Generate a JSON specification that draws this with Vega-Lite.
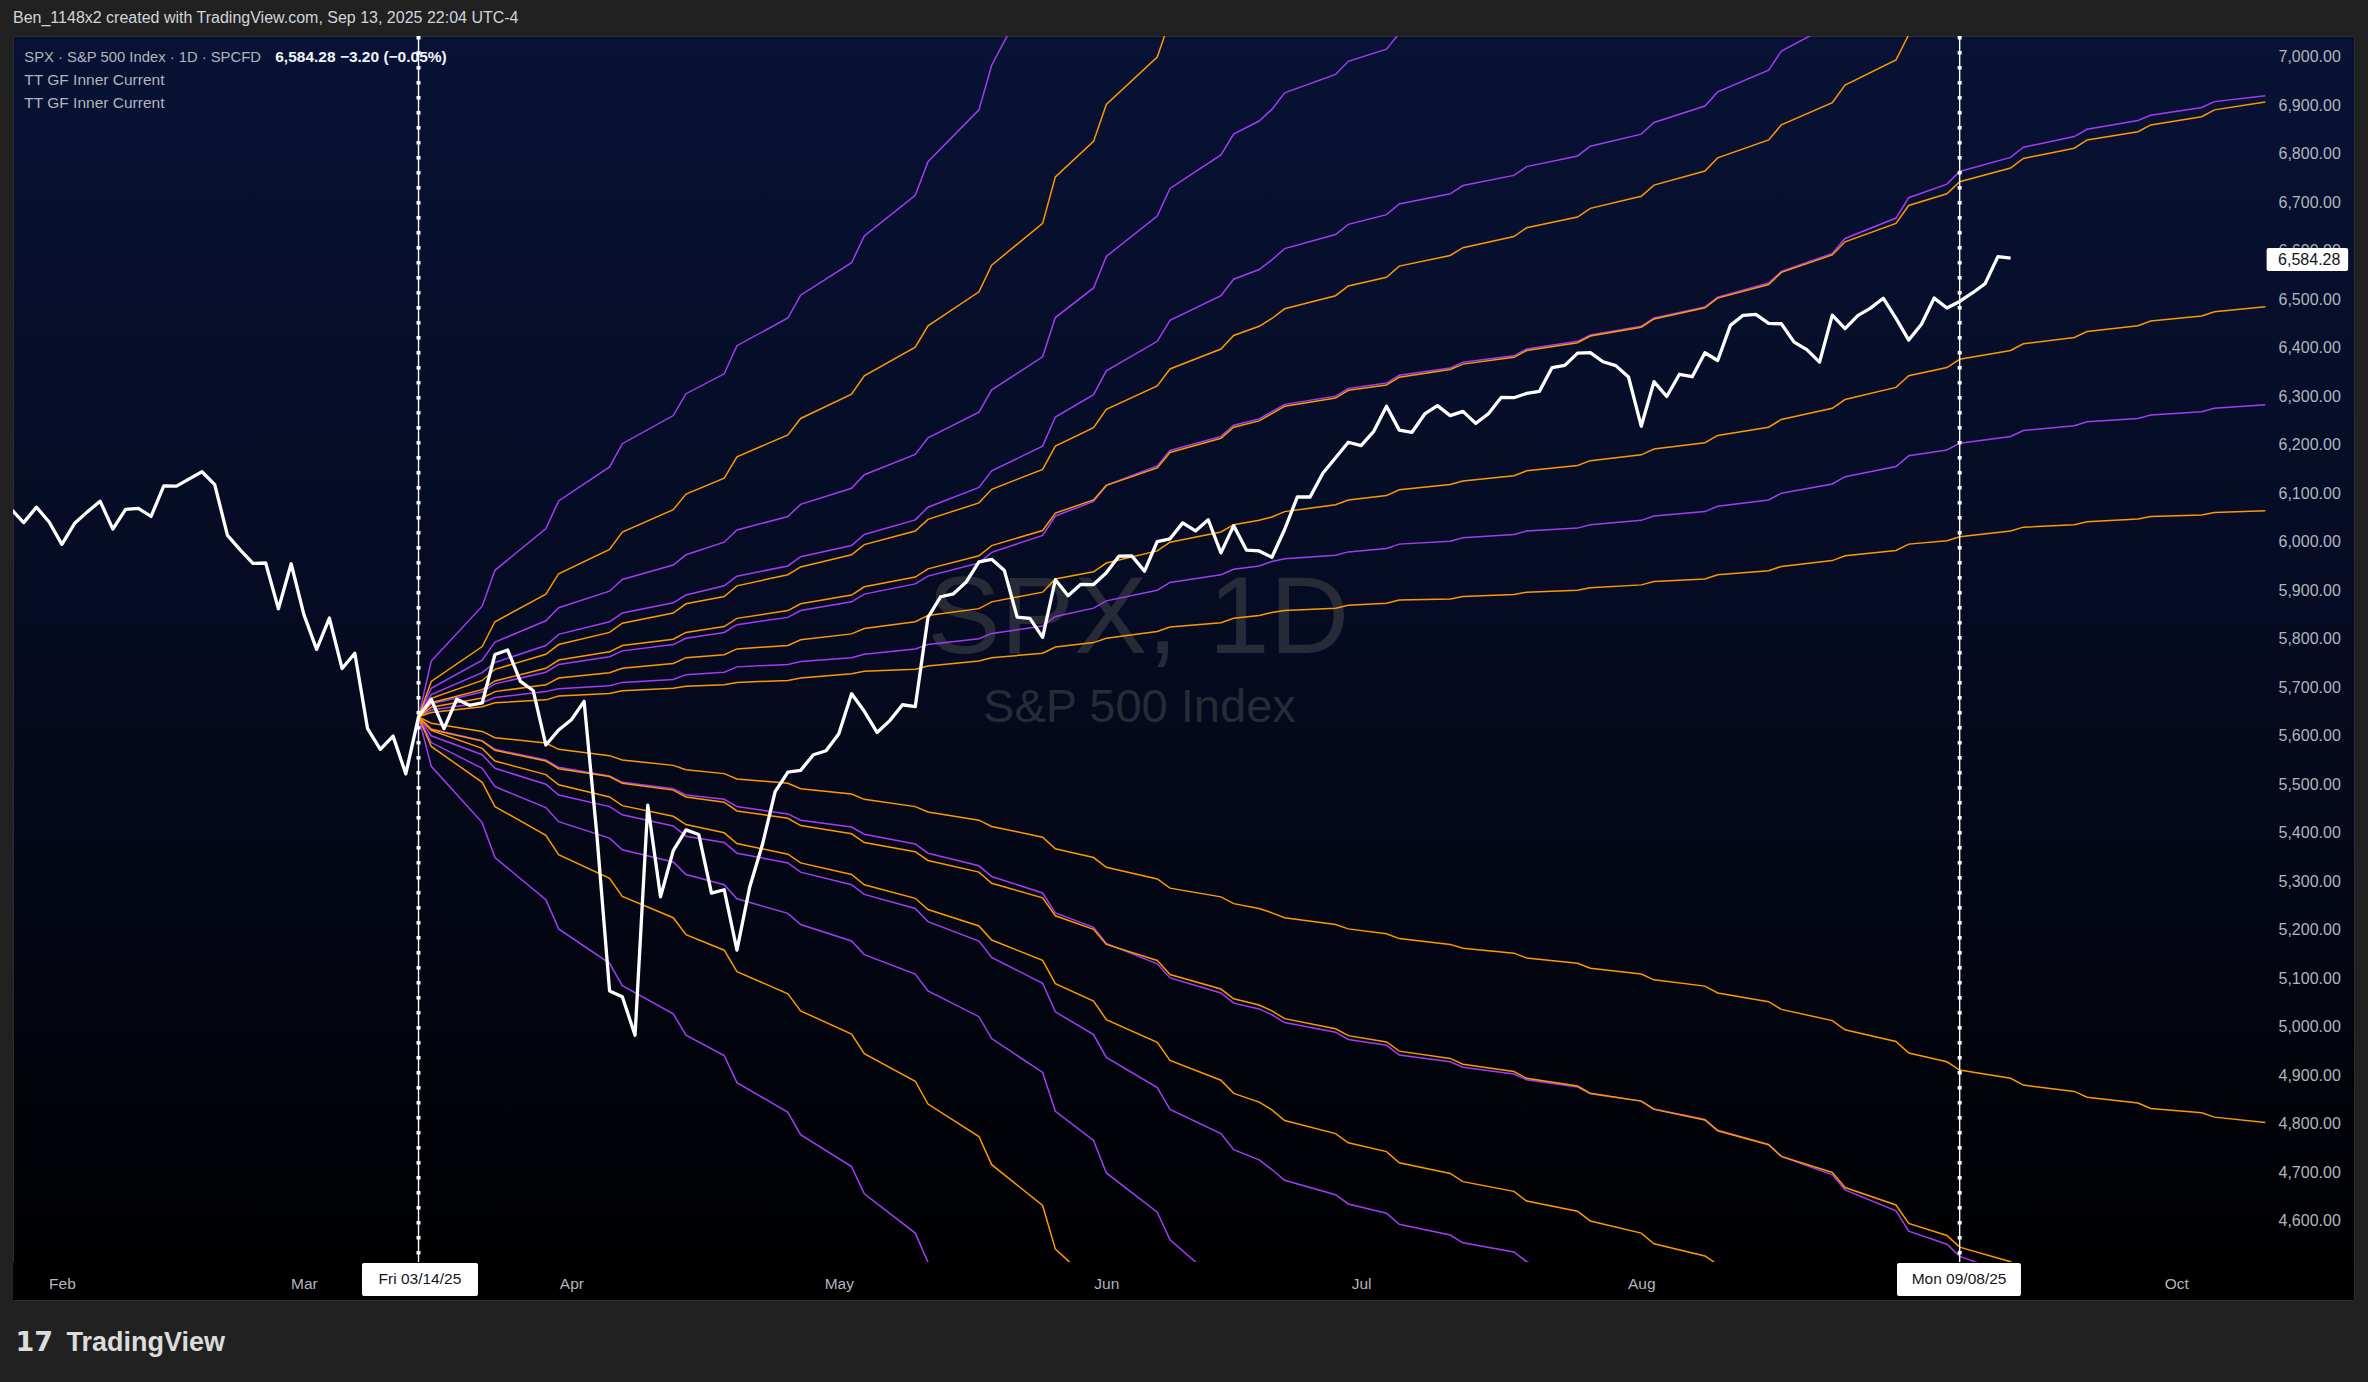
{
"$schema":"https://vega.github.io/schema/vega-lite/v6.json",
"width":2341,"height":1264,
"autosize":{"type":"none"},
"padding":{"left":13,"top":36,"right":14,"bottom":82},
"background":"#212121",
"title":{"text":"Ben_1148x2 created with TradingView.com, Sep 13, 2025 22:04 UTC-4","anchor":"start","frame":"group","offset":8,"color":"#d1d4dc","fontSize":16,"font":"Liberation Sans","fontWeight":"normal"},
"config":{
 "view":{"fill":{"gradient":"linear","x1":0,"y1":0,"x2":0,"y2":1,"stops":[{"offset":0,"color":"#081234"},{"offset":0.45,"color":"#050b22"},{"offset":0.8,"color":"#02040d"},{"offset":1,"color":"#000000"}]},"stroke":"#2c2c2c"},
 "axis":{"grid":false,"domain":false,"ticks":false,"tickSize":0,"labelFont":"Liberation Sans","labelColor":"#b2b5be","labelFontSize":15.5}
},
"datasets":{
"one":[{}],
"fan":[
{"t":28,"p1":5638.94,"p2":5638.94,"p3":5638.94,"p4":5638.94,"p5":5638.94,"p6":5638.94,"p7":5638.94,"p8":5638.94,"p9":5638.94,"o1":5638.94,"o2":5638.94,"o3":5638.94,"o4":5638.94,"o5":5638.94,"o6":5638.94,"o7":5638.94,"o8":5638.94,"o9":5638.94},
{"t":29,"p1":5754,"p2":5698,"p3":5685,"p4":5666,"p5":5653,"p6":5614,"p7":5600,"p8":5586,"p9":5537,"o1":5712,"o2":5677,"o3":5668,"o4":5659,"o5":5648,"o6":5626,"o7":5613,"o8":5611,"o9":5578},
{"t":33,"p1":5867,"p2":5756,"p3":5730,"p4":5690,"p5":5668,"p6":5590,"p7":5561,"p8":5533,"p9":5421,"o1":5784,"o2":5714,"o3":5695,"o4":5678,"o5":5660,"o6":5609,"o7":5589,"o8":5574,"o9":5504},
{"t":34,"p1":5941,"p2":5793,"p3":5751,"p4":5707,"p5":5679,"p6":5572,"p7":5533,"p8":5495,"p9":5349,"o1":5835,"o2":5737,"o3":5713,"o4":5691,"o5":5668,"o6":5596,"o7":5570,"o8":5548,"o9":5454},
{"t":38,"p1":6027,"p2":5837,"p3":5786,"p4":5731,"p5":5691,"p6":5550,"p7":5500,"p8":5452,"p9":5262,"o1":5892,"o2":5768,"o3":5739,"o4":5705,"o5":5674,"o6":5585,"o7":5548,"o8":5520,"o9":5395},
{"t":39,"p1":6084,"p2":5864,"p3":5809,"p4":5747,"p5":5697,"p6":5535,"p7":5478,"p8":5423,"p9":5202,"o1":5934,"o2":5788,"o3":5756,"o4":5719,"o5":5682,"o6":5572,"o7":5532,"o8":5499,"o9":5355},
{"t":43,"p1":6154,"p2":5898,"p3":5835,"p4":5763,"p5":5703,"p6":5517,"p7":5454,"p8":5389,"p9":5131,"o1":5984,"o2":5813,"o3":5773,"o4":5730,"o5":5687,"o6":5559,"o7":5516,"o8":5474,"o9":5306},
{"t":44,"p1":6202,"p2":5922,"p3":5853,"p4":5775,"p5":5710,"p6":5504,"p7":5437,"p8":5365,"p9":5085,"o1":6020,"o2":5832,"o3":5786,"o4":5739,"o5":5693,"o6":5550,"o7":5502,"o8":5456,"o9":5269},
{"t":48,"p1":6260,"p2":5952,"p3":5874,"p4":5788,"p5":5716,"p6":5491,"p7":5414,"p8":5340,"p9":5027,"o1":6066,"o2":5853,"o3":5799,"o4":5749,"o5":5698,"o6":5539,"o7":5488,"o8":5434,"o9":5225},
{"t":49,"p1":6305,"p2":5973,"p3":5890,"p4":5801,"p5":5726,"p6":5478,"p7":5393,"p8":5314,"p9":4983,"o1":6098,"o2":5872,"o3":5813,"o4":5761,"o5":5702,"o6":5530,"o7":5474,"o8":5417,"o9":5190},
{"t":52,"p1":6346,"p2":5999,"p3":5909,"p4":5813,"p5":5731,"p6":5469,"p7":5380,"p8":5293,"p9":4941,"o1":6131,"o2":5887,"o3":5825,"o4":5767,"o5":5705,"o6":5522,"o7":5463,"o8":5400,"o9":5158},
{"t":53,"p1":6404,"p2":6024,"p3":5929,"p4":5829,"p5":5742,"p6":5454,"p7":5358,"p8":5264,"p9":4885,"o1":6175,"o2":5909,"o3":5842,"o4":5779,"o5":5710,"o6":5511,"o7":5445,"o8":5378,"o9":5114},
{"t":57,"p1":6461,"p2":6052,"p3":5950,"p4":5844,"p5":5747,"p6":5439,"p7":5338,"p8":5234,"p9":4824,"o1":6220,"o2":5932,"o3":5858,"o4":5786,"o5":5714,"o6":5502,"o7":5430,"o8":5356,"o9":5068},
{"t":58,"p1":6508,"p2":6077,"p3":5969,"p4":5858,"p5":5753,"p6":5426,"p7":5319,"p8":5211,"p9":4778,"o1":6254,"o2":5948,"o3":5872,"o4":5798,"o5":5719,"o6":5491,"o7":5415,"o8":5338,"o9":5033},
{"t":62,"p1":6575,"p2":6110,"p3":5992,"p4":5876,"p5":5761,"p6":5412,"p7":5293,"p8":5177,"p9":4712,"o1":6304,"o2":5973,"o3":5890,"o4":5810,"o5":5728,"o6":5480,"o7":5398,"o8":5314,"o9":4985},
{"t":63,"p1":6630,"p2":6138,"p3":6015,"p4":5892,"p5":5768,"p6":5397,"p7":5273,"p8":5149,"p9":4656,"o1":6342,"o2":5994,"o3":5907,"o4":5821,"o5":5733,"o6":5469,"o7":5380,"o8":5293,"o9":4945},
{"t":67,"p1":6714,"p2":6180,"p3":6045,"p4":5913,"p5":5779,"p6":5377,"p7":5244,"p8":5109,"p9":4575,"o1":6401,"o2":6022,"o3":5927,"o4":5835,"o5":5737,"o6":5454,"o7":5361,"o8":5265,"o9":4888},
{"t":68,"p1":6783,"p2":6214,"p3":6071,"p4":5929,"p5":5788,"p6":5358,"p7":5217,"p8":5074,"p9":4515,"o1":6445,"o2":6046,"o3":5944,"o4":5848,"o5":5744,"o6":5443,"o7":5343,"o8":5242,"o9":4841},
{"t":72,"p1":6890,"p2":6267,"p3":6112,"p4":5956,"p5":5800,"p6":5332,"p7":5177,"p8":5021,"p9":4420,"o1":6515,"o2":6080,"o3":5971,"o4":5862,"o5":5754,"o6":5426,"o7":5319,"o8":5208,"o9":4774},
{"t":73,"p1":6982,"p2":6313,"p3":6146,"p4":5978,"p5":5811,"p6":5310,"p7":5143,"p8":4976,"o1":6570,"o2":6108,"o3":5992,"o4":5876,"o5":5761,"o6":5413,"o7":5296,"o8":5179,"o9":4716},
{"t":77,"p1":7180,"p2":6381,"p3":6197,"p4":6013,"p5":5826,"p6":5276,"p7":5090,"p8":4906,"o1":6656,"o2":6149,"o3":6023,"o4":5896,"o5":5770,"o6":5391,"o7":5266,"o8":5137,"o9":4632},
{"t":78,"p2":6462,"p3":6257,"p4":6053,"p5":5846,"p6":5235,"p7":5031,"p8":4826,"o1":6752,"o2":6197,"o3":6059,"o4":5923,"o5":5783,"o6":5367,"o7":5229,"o8":5089,"o9":4542},
{"t":81,"p2":6523,"p3":6303,"p4":6083,"p5":5863,"p6":5205,"p7":4984,"p8":4766,"o1":6825,"o2":6235,"o3":6086,"o4":5938,"o5":5792,"o6":5349,"o7":5201,"o8":5053,"o9":4470},
{"t":82,"p2":6588,"p3":6352,"p4":6116,"p5":5878,"p6":5172,"p7":4937,"p8":4699,"o1":6901,"o2":6273,"o3":6116,"o4":5956,"o5":5801,"o6":5329,"o7":5170,"o8":5015},
{"t":86,"p2":6671,"p3":6413,"p4":6156,"p5":5900,"p6":5130,"p7":4875,"p8":4618,"o1":6999,"o2":6321,"o3":6152,"o4":5981,"o5":5815,"o6":5305,"o7":5137,"o8":4968},
{"t":87,"p2":6728,"p3":6456,"p4":6188,"p5":5916,"p6":5101,"p7":4830,"p8":4561,"o1":7075,"o2":6356,"o3":6184,"o4":5999,"o5":5824,"o6":5286,"o7":5108,"o8":4931},
{"t":91,"p2":6797,"p3":6507,"p4":6217,"p5":5932,"p6":5070,"p7":4780,"p8":4470,"o2":6397,"o3":6213,"o4":6020,"o5":5833,"o6":5268,"o7":5078,"o8":4890},
{"t":92,"p2":6840,"p3":6541,"p4":6240,"p5":5943,"p6":5049,"p7":4747,"o2":6425,"o3":6236,"o4":6035,"o5":5842,"o6":5254,"o7":5058,"o8":4863},
{"t":94,"p2":6867,"p3":6561,"p4":6253,"p5":5950,"p6":5037,"p7":4726,"o2":6444,"o3":6249,"o4":6044,"o5":5848,"o6":5244,"o7":5045,"o8":4845},
{"t":95,"p2":6891,"p3":6581,"p4":6268,"p5":5959,"p6":5025,"p7":4706,"o2":6460,"o3":6264,"o4":6051,"o5":5854,"o6":5235,"o7":5033,"o8":4829},
{"t":96,"p2":6925,"p3":6604,"p4":6283,"p5":5965,"p6":5009,"p7":4684,"o2":6480,"o3":6279,"o4":6062,"o5":5858,"o6":5225,"o7":5017,"o8":4807},
{"t":100,"p2":6963,"p3":6633,"p4":6300,"p5":5972,"p6":4989,"p7":4654,"o2":6507,"o3":6296,"o4":6076,"o5":5863,"o6":5211,"o7":4996,"o8":4780},
{"t":101,"p2":6990,"p3":6654,"p4":6316,"p5":5979,"p6":4974,"p7":4635,"o2":6527,"o3":6312,"o4":6086,"o5":5869,"o6":5202,"o7":4982,"o8":4761},
{"t":104,"p2":7015,"p3":6674,"p4":6327,"p5":5986,"p6":4962,"p7":4616,"o2":6545,"o3":6323,"o4":6095,"o5":5873,"o6":5192,"o7":4969,"o8":4743},
{"t":105,"p2":7048,"p3":6696,"p4":6343,"p5":5995,"p6":4942,"p7":4593,"o2":6568,"o3":6339,"o4":6107,"o5":5880,"o6":5182,"o7":4950,"o8":4720},
{"t":109,"p2":7110,"p3":6717,"p4":6358,"p5":6001,"p6":4928,"p7":4571,"o2":6590,"o3":6355,"o4":6118,"o5":5882,"o6":5170,"o7":4935,"o8":4698},
{"t":110,"p3":6734,"p4":6370,"p5":6008,"p6":4917,"p7":4555,"o2":6606,"o3":6366,"o4":6125,"o5":5887,"o6":5162,"o7":4923,"o8":4681},
{"t":114,"p3":6755,"p4":6383,"p5":6015,"p6":4903,"p7":4536,"o2":6629,"o3":6380,"o4":6136,"o5":5891,"o6":5152,"o7":4908,"o8":4661},
{"t":115,"p3":6773,"p4":6397,"p5":6022,"p6":4891,"p7":4516,"o2":6647,"o3":6394,"o4":6146,"o5":5896,"o6":5142,"o7":4894,"o8":4641},
{"t":119,"p3":6795,"p4":6413,"p5":6028,"p6":4876,"p7":4480,"o2":6669,"o3":6410,"o4":6157,"o5":5900,"o6":5131,"o7":4878,"o8":4620},
{"t":120,"p3":6815,"p4":6426,"p5":6035,"p6":4862,"o2":6687,"o3":6424,"o4":6167,"o5":5905,"o6":5121,"o7":4863,"o8":4600},
{"t":124,"p3":6840,"p4":6444,"p5":6044,"p6":4847,"o2":6712,"o3":6442,"o4":6179,"o5":5911,"o6":5109,"o7":4847,"o8":4575},
{"t":125,"p3":6864,"p4":6461,"p5":6053,"p6":4831,"o2":6735,"o3":6459,"o4":6191,"o5":5918,"o6":5097,"o7":4830,"o8":4553},
{"t":129,"p3":6898,"p4":6484,"p5":6062,"p6":4809,"o2":6764,"o3":6482,"o4":6204,"o5":5923,"o6":5084,"o7":4808,"o8":4528},
{"t":130,"p3":6927,"p4":6504,"p5":6073,"p6":4787,"o2":6791,"o3":6502,"o4":6219,"o5":5932,"o6":5070,"o7":4786,"o8":4510},
{"t":134,"p3":6972,"p4":6533,"p5":6086,"p6":4758,"o2":6828,"o3":6530,"o4":6236,"o5":5940,"o6":5052,"o7":4757,"o8":4480},
{"t":135,"p3":7011,"p4":6557,"p5":6100,"p6":4733,"o2":6859,"o3":6555,"o4":6252,"o5":5949,"o6":5036,"o7":4733},
{"t":139,"p3":7067,"p4":6594,"p5":6119,"p6":4695,"o2":6905,"o3":6591,"o4":6275,"o5":5961,"o6":5013,"o7":4700},
{"t":140,"p4":6625,"p5":6134,"p6":4664,"o2":6941,"o3":6618,"o4":6293,"o5":5971,"o6":4994,"o7":4669},
{"t":144,"p4":6667,"p5":6155,"p6":4621,"o2":6993,"o3":6656,"o4":6318,"o5":5982,"o6":4970,"o7":4633},
{"t":145,"p4":6709,"p5":6177,"p6":4579,"o2":7045,"o3":6693,"o4":6342,"o5":5995,"o6":4946,"o7":4595},
{"t":148,"p4":6737,"p5":6189,"p6":4552,"o2":7080,"o3":6717,"o4":6359,"o5":6002,"o6":4928,"o7":4570},
{"t":149,"p4":6763,"p5":6203,"p6":4527,"o3":6742,"o4":6376,"o5":6010,"o6":4911,"o7":4546},
{"t":153,"p4":6792,"p5":6217,"p6":4490,"o3":6770,"o4":6394,"o5":6022,"o6":4894,"o7":4516},
{"t":154,"p4":6813,"p5":6229,"o3":6790,"o4":6408,"o5":6030,"o6":4880,"o7":4495},
{"t":158,"p4":6835,"p5":6239,"o3":6811,"o4":6421,"o5":6035,"o6":4867},
{"t":159,"p4":6850,"p5":6247,"o3":6828,"o4":6433,"o5":6041,"o6":4855},
{"t":163,"p4":6868,"p5":6254,"o3":6845,"o4":6445,"o5":6047,"o6":4843},
{"t":164,"p4":6879,"p5":6261,"o3":6859,"o4":6455,"o5":6052,"o6":4832},
{"t":168,"p4":6895,"p5":6268,"o3":6876,"o4":6465,"o5":6055,"o6":4823},
{"t":169,"p4":6907,"p5":6275,"o3":6890,"o4":6474,"o5":6060,"o6":4814},
{"t":173,"p4":6919,"p5":6282,"o3":6906,"o4":6484,"o5":6064,"o6":4803}
],
"spx":[
{"t":-5,"c":6012.28},{"t":-4,"c":6067.70},{"t":-3,"c":6039.31},{"t":-2,"c":6071.17},{"t":-1,"c":6040.53},
{"t":0,"c":5994.57},{"t":1,"c":6037.88},{"t":2,"c":6061.48},{"t":3,"c":6083.57},{"t":4,"c":6025.99},
{"t":5,"c":6066.44},{"t":6,"c":6068.50},{"t":7,"c":6051.97},{"t":8,"c":6115.07},{"t":9,"c":6114.63},
{"t":10,"c":6129.58},{"t":11,"c":6144.15},{"t":12,"c":6117.52},{"t":13,"c":6013.13},{"t":14,"c":5983.25},
{"t":15,"c":5955.25},{"t":16,"c":5956.06},{"t":17,"c":5861.57},{"t":18,"c":5954.50},{"t":19,"c":5849.72},
{"t":20,"c":5778.15},{"t":21,"c":5842.63},{"t":22,"c":5738.52},{"t":23,"c":5770.20},{"t":24,"c":5614.56},
{"t":25,"c":5572.07},{"t":26,"c":5599.30},{"t":27,"c":5521.52},{"t":28,"c":5638.94},{"t":29,"c":5675.12},
{"t":30,"c":5614.66},{"t":31,"c":5675.29},{"t":32,"c":5662.89},{"t":33,"c":5667.56},{"t":34,"c":5767.57},
{"t":35,"c":5776.65},{"t":36,"c":5712.20},{"t":37,"c":5693.31},{"t":38,"c":5580.94},{"t":39,"c":5611.85},
{"t":40,"c":5633.07},{"t":41,"c":5670.97},{"t":42,"c":5396.52},{"t":43,"c":5074.08},{"t":44,"c":5062.25},
{"t":45,"c":4982.77},{"t":46,"c":5456.90},{"t":47,"c":5268.05},{"t":48,"c":5363.36},{"t":49,"c":5405.97},
{"t":50,"c":5396.63},{"t":51,"c":5275.70},{"t":52,"c":5282.70},{"t":53,"c":5158.20},{"t":54,"c":5287.76},
{"t":55,"c":5375.86},{"t":56,"c":5484.77},{"t":57,"c":5525.21},{"t":58,"c":5528.75},{"t":59,"c":5560.83},
{"t":60,"c":5569.06},{"t":61,"c":5604.14},{"t":62,"c":5686.67},{"t":63,"c":5650.38},{"t":64,"c":5606.91},
{"t":65,"c":5631.28},{"t":66,"c":5663.94},{"t":67,"c":5659.91},{"t":68,"c":5844.19},{"t":69,"c":5886.55},
{"t":70,"c":5892.58},{"t":71,"c":5916.93},{"t":72,"c":5958.38},{"t":73,"c":5963.60},{"t":74,"c":5940.46},
{"t":75,"c":5844.61},{"t":76,"c":5842.01},{"t":77,"c":5802.82},{"t":78,"c":5921.54},{"t":79,"c":5888.55},
{"t":80,"c":5912.17},{"t":81,"c":5911.69},{"t":82,"c":5935.94},{"t":83,"c":5970.37},{"t":84,"c":5970.81},
{"t":85,"c":5939.30},{"t":86,"c":6000.36},{"t":87,"c":6005.88},{"t":88,"c":6038.81},{"t":89,"c":6022.24},
{"t":90,"c":6045.26},{"t":91,"c":5976.97},{"t":92,"c":6033.11},{"t":93,"c":5982.72},{"t":94,"c":5980.87},
{"t":95,"c":5967.84},{"t":96,"c":6025.17},{"t":97,"c":6092.18},{"t":98,"c":6092.16},{"t":99,"c":6141.02},
{"t":100,"c":6173.07},{"t":101,"c":6204.95},{"t":102,"c":6198.01},{"t":103,"c":6227.42},{"t":104,"c":6279.35},
{"t":105,"c":6229.98},{"t":106,"c":6225.52},{"t":107,"c":6263.26},{"t":108,"c":6280.46},{"t":109,"c":6259.75},
{"t":110,"c":6268.56},{"t":111,"c":6243.76},{"t":112,"c":6263.70},{"t":113,"c":6297.36},{"t":114,"c":6296.79},
{"t":115,"c":6305.60},{"t":116,"c":6309.62},{"t":117,"c":6358.91},{"t":118,"c":6363.35},{"t":119,"c":6388.64},
{"t":120,"c":6389.77},{"t":121,"c":6370.86},{"t":122,"c":6362.90},{"t":123,"c":6339.39},{"t":124,"c":6238.01},
{"t":125,"c":6329.94},{"t":126,"c":6299.19},{"t":127,"c":6345.06},{"t":128,"c":6340.00},{"t":129,"c":6389.45},
{"t":130,"c":6373.45},{"t":131,"c":6445.76},{"t":132,"c":6466.58},{"t":133,"c":6468.54},{"t":134,"c":6449.80},
{"t":135,"c":6449.15},{"t":136,"c":6411.37},{"t":137,"c":6395.78},{"t":138,"c":6370.17},{"t":139,"c":6466.91},
{"t":140,"c":6439.32},{"t":141,"c":6465.94},{"t":142,"c":6481.40},{"t":143,"c":6501.86},{"t":144,"c":6460.26},
{"t":145,"c":6415.54},{"t":146,"c":6448.26},{"t":147,"c":6502.08},{"t":148,"c":6481.50},{"t":149,"c":6495.15},
{"t":150,"c":6512.61},{"t":151,"c":6532.04},{"t":152,"c":6587.47},{"t":153,"c":6584.28}
]
},
"layer":[
{"data":{"name":"one"},"mark":{"type":"text","text":"SPX, 1D","font":"Liberation Sans","fontSize":110,"color":"#272b37","align":"center","baseline":"alphabetic"},
 "encoding":{"x":{"datum":84.5,"scale":{"domain":[-3.839,179.96],"nice":false,"zero":false},"axis":{"values":[0,19,40,61,82,102,124,166],"labelExpr":"datum.value==0?'Feb':datum.value==19?'Mar':datum.value==40?'Apr':datum.value==61?'May':datum.value==82?'Jun':datum.value==102?'Jul':datum.value==124?'Aug':'Oct'","offset":-38,"labelBaseline":"middle","labelPadding":21,"labelFlush":false,"labelOverlap":false,"zindex":1,"title":"TradingView","titleX":53,"titleY":80,"titleAlign":"left","titleAnchor":"start","titleBaseline":"middle","titleFont":"Liberation Sans","titleFontSize":27,"titleFontWeight":"bold","titleColor":"#dcdcdc"}},
  "y":{"datum":5770,"scale":{"domain":[4437.1,7042.25],"nice":false,"zero":false},"axis":{"orient":"right","values":[4600,4700,4800,4900,5000,5100,5200,5300,5400,5500,5600,5700,5800,5900,6000,6100,6200,6300,6400,6500,6600,6700,6800,6900,7000],"format":",.2f","offset":-88,"labelPadding":12,"labelFontSize":16,"labelOverlap":false,"title":"17","titleAngle":0,"titleX":-2251,"titleY":1306,"titleAlign":"left","titleBaseline":"middle","titleFont":"DejaVu Sans","titleFontSize":27,"titleFontWeight":"bold","titleColor":"#dcdcdc"}}}},
{"data":{"name":"one"},"mark":{"type":"text","text":"S&P 500 Index","font":"Liberation Sans","fontSize":47,"color":"#272b37","align":"center","baseline":"alphabetic"},
 "encoding":{"x":{"datum":84.6},"y":{"datum":5629}}},
{"data":{"name":"fan"},
 "transform":[{"fold":["p1","p2","p3","p4","p5","p6","p7","p8","p9"],"as":["line","value"]},{"filter":"isValid(datum.value)"}],
 "mark":{"type":"line","color":"#a23cf4","strokeWidth":1.5,"clip":true},
 "encoding":{"x":{"field":"t","type":"quantitative"},"y":{"field":"value","type":"quantitative"},"detail":{"field":"line"}}},
{"data":{"name":"fan"},
 "transform":[{"fold":["o1","o2","o3","o4","o5","o6","o7","o8","o9"],"as":["line","value"]},{"filter":"isValid(datum.value)"}],
 "mark":{"type":"line","color":"#ff9800","strokeWidth":1.5,"clip":true},
 "encoding":{"x":{"field":"t","type":"quantitative"},"y":{"field":"value","type":"quantitative"},"detail":{"field":"line"}}},
{"data":{"name":"spx"},
 "mark":{"type":"line","color":"#ffffff","strokeWidth":3.3,"clip":true,"strokeJoin":"round"},
 "encoding":{"x":{"field":"t","type":"quantitative"},"y":{"field":"c","type":"quantitative"}}},
{"data":{"name":"one"},"mark":{"type":"text","text":"SPX · S&P 500 Index · 1D · SPCFD","font":"Liberation Sans","fontSize":14.8,"color":"#b2b5be","align":"left","baseline":"alphabetic"},
 "encoding":{"x":{"datum":-2.95},"y":{"datum":6988.5}}},
{"data":{"name":"one"},"mark":{"type":"text","text":"6,584.28  −3.20 (−0.05%)","font":"Liberation Sans","fontSize":15.5,"fontWeight":"bold","color":"#f0f3fa","align":"left","baseline":"alphabetic"},
 "encoding":{"x":{"datum":16.75},"y":{"datum":6988.5}}},
{"data":{"name":"one"},"mark":{"type":"text","text":"TT GF Inner Current","font":"Liberation Sans","fontSize":15.5,"color":"#b2b5be","align":"left","baseline":"alphabetic"},
 "encoding":{"x":{"datum":-2.95},"y":{"datum":6940.5}}},
{"data":{"name":"one"},"mark":{"type":"text","text":"TT GF Inner Current","font":"Liberation Sans","fontSize":15.5,"color":"#b2b5be","align":"left","baseline":"alphabetic"},
 "encoding":{"x":{"datum":-2.95},"y":{"datum":6894.5}}},
{"data":{"name":"one"},"mark":{"type":"rule","color":"#ffffff","strokeWidth":1.4},"encoding":{"x":{"datum":28}}},
{"data":{"name":"one"},"mark":{"type":"rule","color":"#ffffff","strokeWidth":4,"strokeDash":[3.5,11.5]},"encoding":{"x":{"datum":28}}},
{"data":{"name":"one"},"mark":{"type":"rule","color":"#ffffff","strokeWidth":1.4},"encoding":{"x":{"datum":149}}},
{"data":{"name":"one"},"mark":{"type":"rule","color":"#ffffff","strokeWidth":4,"strokeDash":[3.5,11.5]},"encoding":{"x":{"datum":149}}},
{"data":{"name":"one"},"mark":{"type":"rect","color":"#000000"},"encoding":{"x":{"datum":-3.839},"x2":{"datum":179.96},"y":{"datum":4437.1},"y2":{"datum":4515.5}}},
{"data":{"name":"one"},"mark":{"type":"rect","color":"#ffffff","cornerRadius":2},"encoding":{"x":{"datum":23.56},"x2":{"datum":32.67},"y":{"datum":4513.4},"y2":{"datum":4445.4}}},
{"data":{"name":"one"},"mark":{"type":"text","text":"Fri 03/14/25","font":"Liberation Sans","fontSize":15.5,"color":"#131722","align":"center","baseline":"middle"},"encoding":{"x":{"datum":28.11},"y":{"datum":4479.4}}},
{"data":{"name":"one"},"mark":{"type":"rect","color":"#ffffff","cornerRadius":2},"encoding":{"x":{"datum":144.08},"x2":{"datum":153.81},"y":{"datum":4513.4},"y2":{"datum":4445.4}}},
{"data":{"name":"one"},"mark":{"type":"text","text":"Mon 09/08/25","font":"Liberation Sans","fontSize":15.5,"color":"#131722","align":"center","baseline":"middle"},"encoding":{"x":{"datum":148.95},"y":{"datum":4479.4}}},
{"data":{"name":"one"},"mark":{"type":"rect","color":"#ffffff","cornerRadius":2},"encoding":{"x":{"datum":173.1},"x2":{"datum":179.5},"y":{"datum":6605.3},"y2":{"datum":6557.9}}},
{"data":{"name":"one"},"mark":{"type":"text","text":"6,584.28","font":"Liberation Sans","fontSize":16,"color":"#131722","align":"left","baseline":"middle"},"encoding":{"x":{"datum":174.0},"y":{"datum":6581.6}}}
]
}
